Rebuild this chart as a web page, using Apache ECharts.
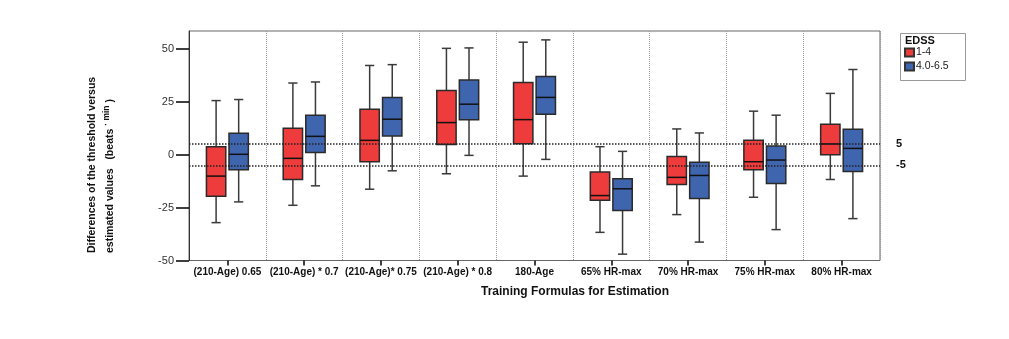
<!DOCTYPE html>
<html>
<head>
<meta charset="utf-8">
<script src="https://cdn.jsdelivr.net/npm/echarts@6/dist/echarts.min.js"></script>
<style>
  html, body { margin: 0; padding: 0; background: #fff; }
  #chart { width: 1009px; height: 339px; }
</style>
</head>
<body>
<div id="chart"></div>
<script>
var categories = ['(210-Age) 0.65', '(210-Age) * 0.7', '(210-Age)* 0.75', '(210-Age) * 0.8',
  '180-Age', '65% HR-max', '70% HR-max', '75% HR-max', '80% HR-max'];

// [min, Q1, median, Q3, max]
var edssLow = [
  [-32.1, -19.6, -10.1, 3.8, 25.6],
  [-23.9, -11.7, -1.7, 12.5, 33.9],
  [-16.3, -3.3, 6.8, 21.5, 42.2],
  [-9.0, 4.9, 15.2, 30.4, 50.3],
  [-10.1, 5.2, 16.6, 34.2, 53.2],
  [-36.7, -21.5, -19.3, -8.2, 3.8],
  [-28.3, -14.1, -10.7, -0.8, 12.2],
  [-20.1, -7.1, -3.3, 6.8, 20.6],
  [-11.7, 0.0, 5.1, 14.4, 29.0]
];
var edssHigh = [
  [-22.3, -7.1, 0.2, 10.2, 26.1],
  [-14.7, 1.0, 8.7, 18.7, 34.4],
  [-7.6, 8.9, 16.8, 27.1, 42.6],
  [-0.3, 16.6, 23.9, 35.3, 50.5],
  [-2.2, 19.2, 27.1, 37.0, 54.3],
  [-47.0, -26.4, -16.1, -11.4, 1.6],
  [-41.3, -20.7, -9.8, -3.6, 10.3],
  [-35.4, -13.6, -2.5, 4.1, 18.7],
  [-30.2, -7.9, 3.0, 12.1, 40.3]
];
var groupNames = ['1-4', '4.0-6.5'];
var yTicks = [-50, -25, 0, 25, 50];
var refLines = [5, -5];

var FONT = 'Liberation Sans, Arial, sans-serif';

function withIndex(rows) {
  return rows.map(function (r, i) { return [i].concat(r); });
}

function boxRenderer(shift) {
  return function (params, api) {
    var i = api.value(0);
    var band = api.size([1, 0])[0];
    var cx = api.coord([i, 0])[0] + shift * band;
    var half = band * 0.126;
    var cap = band * 0.06;
    var y = [1, 2, 3, 4, 5].map(function (d) { return api.coord([i, api.value(d)])[1]; });
    var whisker = { stroke: '#3a3a3a', lineWidth: 1.5 };
    return {
      type: 'group',
      children: [
        { type: 'line', shape: { x1: cx, y1: y[0], x2: cx, y2: y[1] }, style: whisker },
        { type: 'line', shape: { x1: cx, y1: y[3], x2: cx, y2: y[4] }, style: whisker },
        { type: 'line', shape: { x1: cx - cap, y1: y[0], x2: cx + cap, y2: y[0] }, style: whisker },
        { type: 'line', shape: { x1: cx - cap, y1: y[4], x2: cx + cap, y2: y[4] }, style: whisker },
        { type: 'rect', shape: { x: cx - half, y: y[3], width: half * 2, height: y[1] - y[3] },
          style: { fill: api.visual('color'), stroke: '#2a2a2a', lineWidth: 1.5 } },
        { type: 'line', shape: { x1: cx - half, y1: y[2], x2: cx + half, y2: y[2] },
          style: { stroke: '#111', lineWidth: 1.5 } }
      ]
    };
  };
}

var chart = echarts.init(document.getElementById('chart'));
chart.setOption({
  animation: false,
  grid: { left: 189, top: 31, width: 691, height: 229.5, show: true, borderColor: '#666', borderWidth: 1 },
  xAxis: {
    type: 'category',
    data: categories,
    axisLine: { show: false, onZero: false },
    axisTick: { show: true, alignWithLabel: true, length: 5, lineStyle: { color: '#000', width: 1.5 } },
    axisLabel: { interval: 0, margin: 7, fontFamily: FONT, fontSize: 10, fontWeight: 'bold', color: '#111' },
    splitLine: { show: true, lineStyle: { color: '#999', type: 'dotted', width: 1 } }
  },
  yAxis: {
    type: 'value',
    min: -50,
    max: 58.5,
    axisLine: { show: true, onZero: false, lineStyle: { color: '#333', width: 1 } },
    axisTick: { show: true, length: 13, customValues: yTicks, lineStyle: { color: '#000', width: 1.5 } },
    axisLabel: { customValues: yTicks, margin: 15, fontFamily: FONT, fontSize: 11, color: '#333' },
    splitLine: { show: false }
  },
  legend: {
    orient: 'vertical',
    left: 904,
    top: 47,
    padding: 0,
    itemGap: 3,
    itemWidth: 9,
    itemHeight: 8,
    icon: 'rect',
    data: groupNames,
    textStyle: { fontFamily: FONT, fontSize: 10.5, color: '#222', padding: [0, 0, 0, -3] }
  },
  graphic: [
    { type: 'rect', left: 898, top: 31, shape: { width: 65, height: 47 },
      style: { fill: 'none', stroke: '#999', lineWidth: 1 } },
    { type: 'text', x: 905, y: 41,
      style: { text: 'EDSS', font: 'bold 11px ' + FONT, fill: '#111', verticalAlign: 'middle' } },
    { type: 'text', x: 575, y: 292,
      style: { text: 'Training Formulas for Estimation', font: 'bold 12px ' + FONT, fill: '#111',
        align: 'center', verticalAlign: 'middle' } },
    { type: 'text', x: 92, y: 253, rotation: Math.PI / 2,
      style: { text: 'Differences of the threshold versus', font: 'bold 10.5px ' + FONT, fill: '#111',
        align: 'left', verticalAlign: 'middle' } },
    { type: 'text', x: 110, y: 253, rotation: Math.PI / 2,
      style: {
        text: 'estimated values   (beats {sup|\u00b7 min}{n| )}',
        font: 'bold 10.5px ' + FONT, fill: '#111', align: 'left', verticalAlign: 'middle',
        rich: {
          sup: { fontSize: 8.5, fontWeight: 'bold', fontFamily: FONT, fill: '#111', verticalAlign: 'top', padding: [0, 0, 7, 0] },
          n: { fontSize: 10.5, fontWeight: 'bold', fontFamily: FONT, fill: '#111' }
        }
      } }
  ],
  series: [
    {
      name: groupNames[0],
      type: 'custom',
      renderItem: boxRenderer(-0.147),
      encode: { x: 0, y: [1, 2, 3, 4, 5] },
      itemStyle: { color: '#EE3B3B', borderColor: '#333', borderWidth: 1 },
      data: withIndex(edssLow),
      markLine: {
        silent: true,
        symbol: 'none',
        lineStyle: { color: '#222', type: 'dotted', width: 1.5 },
        label: { position: 'end', distance: 16, formatter: '{c}', fontFamily: FONT, fontSize: 11, fontWeight: 'bold', color: '#111' },
        data: refLines.map(function (v) { return { yAxis: v }; })
      }
    },
    {
      name: groupNames[1],
      type: 'custom',
      renderItem: boxRenderer(0.147),
      encode: { x: 0, y: [1, 2, 3, 4, 5] },
      itemStyle: { color: '#3F65AF', borderColor: '#333', borderWidth: 1 },
      data: withIndex(edssHigh)
    }
  ]
});
</script>
</body>
</html>
